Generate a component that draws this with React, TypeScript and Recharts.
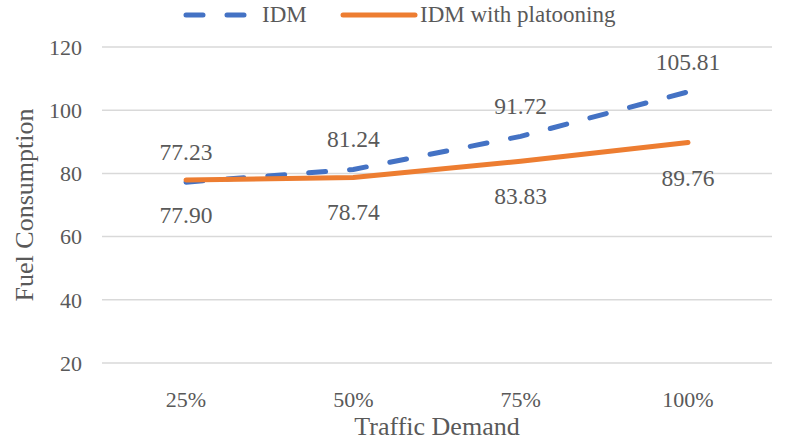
import { LineChart, Line, XAxis, YAxis, CartesianGrid, Legend, LabelList, Label } from "recharts";

const categories = ["25%", "50%", "75%", "100%"];
const idm = [77.23, 81.24, 91.72, 105.81];
const idmPlatooning = [77.9, 78.74, 83.83, 89.76];
const yTicks = [20, 40, 60, 80, 100, 120];

const data = categories.map((c, i) => ({ demand: c, idm: idm[i], platoon: idmPlatooning[i] }));

const BLUE = "#4472C4";
const ORANGE = "#ED7D31";
const TEXT = "#595959";
const FONT = "Liberation Serif, Times New Roman, serif";

// data label drawn above or below the point
const makeLabel = (shift: number) => (props: any) => {
  const { x, y, value } = props;
  return (
    <text
      x={x}
      y={y + shift}
      textAnchor="middle"
      dominantBaseline="central"
      fill={TEXT}
      style={{ fontFamily: FONT, fontSize: 23.5 }}
    >
      {Number(value).toFixed(2)}
    </text>
  );
};

const LegendBox = () => (
  <div style={{ position: "relative", width: 785, height: 30, fontFamily: FONT, fontSize: 23, color: TEXT }}>
    <svg style={{ position: "absolute", left: 182, top: 9 }} width={72} height={12}>
      <line x1={4} y1={6} x2={68} y2={6} stroke={BLUE} strokeWidth={5} strokeDasharray="17 24" strokeLinecap="round" />
    </svg>
    <span style={{ position: "absolute", left: 262, top: 0, lineHeight: "30px" }}>IDM</span>
    <svg style={{ position: "absolute", left: 340, top: 9 }} width={78} height={12}>
      <line x1={3} y1={6} x2={75} y2={6} stroke={ORANGE} strokeWidth={5} strokeLinecap="round" />
    </svg>
    <span style={{ position: "absolute", left: 420, top: 0, lineHeight: "30px" }}>IDM with platooning</span>
  </div>
);

const tickStyle = { fill: TEXT, fontSize: 22, fontFamily: FONT, style: { fontFamily: FONT } };

export default function App() {
  return (
    <div style={{ position: "absolute", left: 0, top: 0, width: 785, height: 444, background: "#fff", fontFamily: FONT }}>
      <LineChart width={785} height={444} data={data} margin={{ top: 47, right: 13, left: 0, bottom: 0 }}>
        <CartesianGrid vertical={false} stroke="#D9D9D9" strokeWidth={1.5} />
        <XAxis
          dataKey="demand"
          height={81}
          padding={{ left: 84, right: 84 }}
          axisLine={false}
          tickLine={false}
          tickSize={8}
          tickMargin={20}
          tick={tickStyle}
        >
          <Label value="Traffic Demand" position="insideBottom" offset={9} fill={TEXT} fontSize={26} style={{ fontFamily: FONT }} />
        </XAxis>
        <YAxis
          width={102}
          domain={[20, 120]}
          ticks={yTicks}
          axisLine={false}
          tickLine={false}
          tickSize={8}
          tickMargin={12}
          tick={tickStyle}
        >
          <Label
            value="Fuel Consumption"
            angle={-90}
            position="insideLeft"
            offset={24}
            fill={TEXT}
            fontSize={26}
            style={{ textAnchor: "middle", fontFamily: FONT }}
          />
        </YAxis>
        <Legend
          layout="horizontal"
          verticalAlign="middle"
          align="center"
          wrapperStyle={{ top: 0, left: 0, width: 785, height: 30 }}
          content={() => <LegendBox />}
        />
        <Line
          dataKey="idm"
          stroke={BLUE}
          strokeWidth={5}
          strokeDasharray="17 24"
          strokeLinecap="round"
          dot={false}
          activeDot={false}
          isAnimationActive={false}
        >
          <LabelList dataKey="idm" content={makeLabel(-30)} />
        </Line>
        <Line
          dataKey="platoon"
          stroke={ORANGE}
          strokeWidth={5}
          strokeLinecap="round"
          dot={false}
          activeDot={false}
          isAnimationActive={false}
        >
          <LabelList dataKey="platoon" content={makeLabel(35)} />
        </Line>
      </LineChart>
    </div>
  );
}
